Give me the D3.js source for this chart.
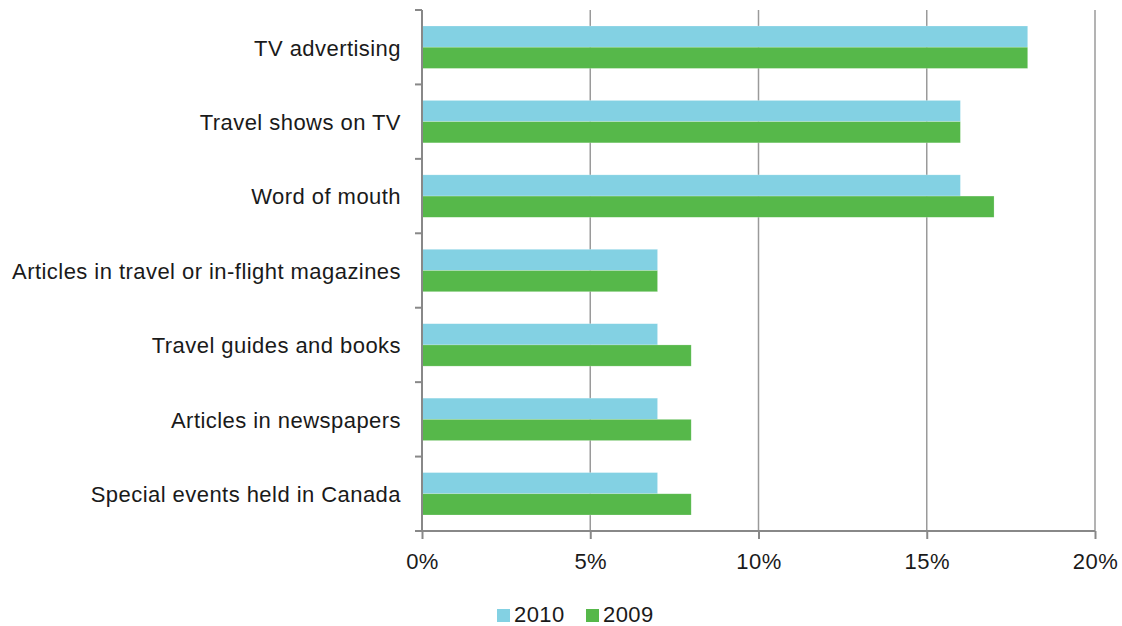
<!DOCTYPE html>
<html>
<head>
<meta charset="utf-8">
<script src="https://cdn.jsdelivr.net/npm/d3@7"></script>
<style>
  body { margin: 0; background: #fff; }
  text { font-family: "Liberation Sans", Arial, sans-serif; fill: #1a1a1a; letter-spacing: 0.45px; }
</style>
</head>
<body>
<div id="chart"></div>
<script>
var categories = ["TV advertising", "Travel shows on TV", "Word of mouth",
    "Articles in travel or in-flight magazines", "Travel guides and books",
    "Articles in newspapers", "Special events held in Canada"];
var series = ["2010", "2009"];
var values2010 = [18, 16, 16, 7, 7, 7, 7];
var values2009 = [18, 16, 17, 7, 8, 8, 8];
var xTicks = [0, 5, 10, 15, 20];
var colors = ["#83d1e3", "#56b84a"];

var svg = d3.select("#chart").append("svg").attr("width", 1122).attr("height", 626),
    margin = {top: 10, right: 27, bottom: 95, left: 422},
    width = 1122 - margin.left - margin.right,
    height = 626 - margin.top - margin.bottom,
    g = svg.append("g").attr("transform", "translate(" + margin.left + "," + margin.top + ")");

var x = d3.scaleLinear().domain([0, 20]).range([0, width]);
var y = d3.scaleBand().domain(categories).range([0, height]).paddingInner(0.43).paddingOuter(0.215);
var y1 = d3.scaleBand().domain(series).range([0, y.bandwidth()]);

var rows = categories.map(function(c, i) {
    return {cat: c, vals: [values2010[i], values2009[i]]};
});

// grid
g.append("g").selectAll("line")
    .data(xTicks.slice(1))
    .enter().append("line")
    .attr("x1", function(d) { return x(d); })
    .attr("x2", function(d) { return x(d); })
    .attr("y1", 0)
    .attr("y2", height)
    .attr("stroke", "#9a9a9a")
    .attr("stroke-width", 1.5);

// bars
var grp = g.selectAll(".row")
    .data(rows)
    .enter().append("g")
    .attr("class", "row")
    .attr("transform", function(d) { return "translate(0," + y(d.cat) + ")"; });

grp.selectAll("rect")
    .data(function(d) { return d.vals; })
    .enter().append("rect")
    .attr("x", 0)
    .attr("y", function(d, i) { return y1(series[i]); })
    .attr("width", function(d) { return x(d); })
    .attr("height", y1.bandwidth())
    .attr("fill", function(d, i) { return colors[i]; })
    .attr("stroke", "#ffffff")
    .attr("stroke-opacity", 0.35)
    .attr("stroke-width", 0.6);

// axes
var xAxis = g.append("g")
    .attr("transform", "translate(0," + height + ")")
    .call(d3.axisBottom(x).tickValues(xTicks).tickFormat(function(d) { return d + "%"; }).tickSize(8).tickPadding(14));

var yAxis = g.append("g")
    .call(d3.axisLeft(y).tickSize(0).tickPadding(21));
yAxis.selectAll("text").attr("dy", "0.38em");

// band boundary ticks on y axis
g.append("g").selectAll("line")
    .data(d3.range(categories.length + 1))
    .enter().append("line")
    .attr("x1", -7).attr("x2", 0)
    .attr("y1", function(i) { return i * height / categories.length; })
    .attr("y2", function(i) { return i * height / categories.length; })
    .attr("stroke", "#888")
    .attr("stroke-width", 2);

[xAxis, yAxis].forEach(function(a) {
    a.select(".domain").attr("stroke", "#888").attr("stroke-width", 2);
    a.selectAll(".tick line").attr("stroke", "#888").attr("stroke-width", 2);
    a.selectAll("text").style("font-size", "22px").attr("fill", "#1a1a1a");
});
yAxis.select(".domain").attr("d", "M0,0V" + height);
xAxis.select(".domain").attr("d", "M0,0H" + width);

// legend
var legend = svg.append("g").attr("transform", "translate(497,609)");
var li = legend.selectAll("g")
    .data(series)
    .enter().append("g")
    .attr("transform", function(d, i) { return "translate(" + (i * 89) + ",0)"; });
li.append("rect").attr("width", 13).attr("height", 13).attr("fill", function(d, i) { return colors[i]; });
li.append("text").attr("x", 17).attr("y", 13).style("font-size", "22px").text(function(d) { return d; });
</script>
</body>
</html>
